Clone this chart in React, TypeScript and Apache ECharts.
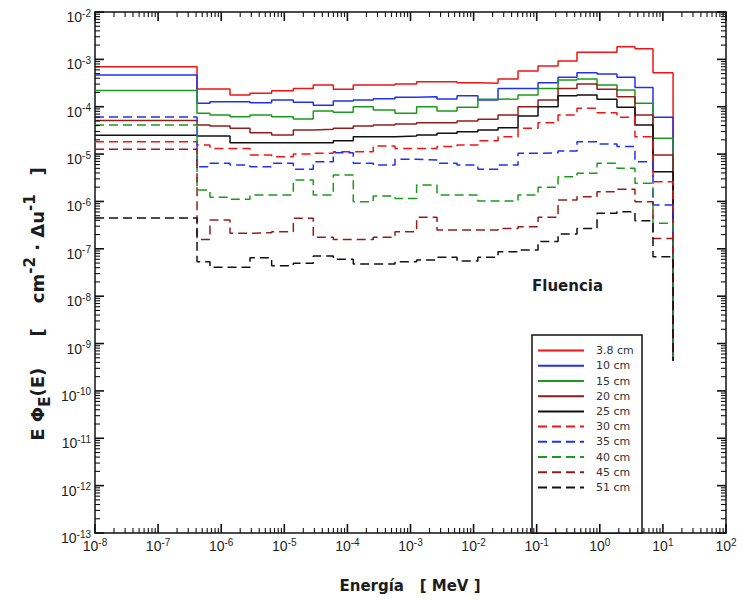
import React, { useEffect, useRef } from "react";
import * as echarts from "echarts";

// Bin lower edges (MeV); the last entry is the upper edge of the last bin
const binEdges = [
  1e-8, 4.14e-7, 6.64e-7, 1.38e-6, 2.86e-6, 6.3e-6, 1.39e-5, 2.88e-5, 5.98e-5,
  1.24e-4, 2.57e-4, 5.68e-4, 1.25e-3, 2.63e-3, 5.46e-3, 1.17e-2, 2.44e-2,
  5.06e-2, 0.105, 0.218, 0.435, 0.904, 1.87, 3.61, 6.97, 14.5,
];

const seriesNames = ["3.8 cm", "10 cm", "15 cm", "20 cm", "25 cm", "30 cm", "35 cm", "40 cm", "45 cm", "51 cm"];

const v38 = [7.0e-4, 2.37e-4, 2.37e-4, 1.77e-4, 1.92e-4, 2.18e-4, 2.44e-4, 2.88e-4, 2.33e-4, 2.88e-4, 2.88e-4, 3.02e-4, 3.38e-4, 3.38e-4, 3.22e-4, 3.12e-4, 3.85e-4, 5.68e-4, 7.24e-4, 9.2e-4, 1.41e-3, 1.41e-3, 1.85e-3, 1.68e-3, 5.2e-4];
const v10 = [4.7e-4, 1.18e-4, 1.28e-4, 1.28e-4, 1.22e-4, 1.39e-4, 1.24e-4, 1.07e-4, 1.32e-4, 1.39e-4, 1.48e-4, 1.58e-4, 1.63e-4, 1.46e-4, 1.71e-4, 1.39e-4, 2.44e-4, 2.44e-4, 3.22e-4, 4.17e-4, 5.24e-4, 4.91e-4, 4.17e-4, 2.56e-4, 5.97e-5];
const v15 = [2.2e-4, 7.24e-5, 6.68e-5, 6.16e-5, 6.68e-5, 6.16e-5, 5.5e-5, 8.13e-5, 7.61e-5, 1.0e-4, 8.53e-5, 7.24e-5, 1.0e-4, 8.13e-5, 9.7e-5, 1.43e-4, 1.46e-4, 1.77e-4, 2.44e-4, 3.67e-4, 3.85e-4, 2.88e-4, 2.25e-4, 1.18e-4, 2.15e-5];
const v20 = [5.1e-5, 4.11e-5, 3.92e-5, 3.5e-5, 2.83e-5, 2.53e-5, 3.22e-5, 3.33e-5, 3.5e-5, 3.92e-5, 4.11e-5, 4.31e-5, 4.6e-5, 4.6e-5, 4.99e-5, 5.42e-5, 6.68e-5, 1.0e-4, 1.39e-4, 2.44e-4, 3.02e-4, 2.33e-4, 1.63e-4, 6.68e-5, 9.57e-6];
const v25 = [2.5e-5, 2.41e-5, 2.41e-5, 1.74e-5, 1.74e-5, 1.74e-5, 1.74e-5, 1.74e-5, 1.92e-5, 2.33e-5, 2.33e-5, 2.41e-5, 2.53e-5, 2.74e-5, 2.97e-5, 3.22e-5, 3.61e-5, 6.37e-5, 1.0e-4, 1.71e-4, 1.77e-4, 1.43e-4, 9.7e-5, 4.11e-5, 4.26e-6];
const v30 = [1.82e-5, 1.56e-5, 1.32e-5, 1.32e-5, 9.57e-6, 8.82e-6, 1.0e-5, 1.04e-5, 1.12e-5, 1.12e-5, 1.48e-5, 1.32e-5, 1.32e-5, 1.44e-5, 1.56e-5, 1.92e-5, 2.33e-5, 3.5e-5, 4.6e-5, 6.68e-5, 9.25e-5, 7.48e-5, 5.97e-5, 2.33e-5, 2.61e-6];
const v35 = [6.1e-5, 5.42e-6, 6.38e-6, 5.88e-6, 5.42e-6, 6.38e-6, 4.76e-6, 6.92e-6, 1.07e-5, 6.38e-6, 5.88e-6, 7.75e-6, 7.5e-6, 6.38e-6, 5.88e-6, 4.76e-6, 5.88e-6, 1.04e-5, 1.07e-5, 1.16e-5, 1.83e-5, 1.63e-5, 1.44e-5, 6.92e-6, 8.41e-7];
const v40 = [4.1e-5, 1.75e-6, 1.22e-6, 1.11e-6, 1.37e-6, 1.37e-6, 2.84e-6, 1.37e-6, 3.61e-6, 9.89e-7, 1.3e-6, 1.16e-6, 2.22e-6, 1.37e-6, 1.37e-6, 1.02e-6, 1.02e-6, 1.37e-6, 1.99e-6, 3.33e-6, 3.92e-6, 6.38e-6, 5.0e-6, 2.41e-6, 3.45e-7];
const v45 = [1.26e-5, 1.58e-7, 4.06e-7, 2.12e-7, 2.19e-7, 2.3e-7, 4.4e-7, 1.75e-7, 1.58e-7, 1.58e-7, 1.75e-7, 2.3e-7, 4.62e-7, 2.5e-7, 2.5e-7, 2.5e-7, 2.7e-7, 2.93e-7, 4.62e-7, 1.07e-6, 1.26e-6, 1.61e-6, 1.8e-6, 9.89e-7, 1.66e-7];
const v51 = [4.5e-7, 5.35e-8, 4.06e-8, 4.06e-8, 6.5e-8, 4.41e-8, 4.93e-8, 7.05e-8, 6.0e-8, 4.77e-8, 4.77e-8, 5.35e-8, 5.81e-8, 6.61e-8, 5.52e-8, 6.61e-8, 8.71e-8, 9.44e-8, 1.42e-7, 2.06e-7, 2.7e-7, 5.61e-7, 6.08e-7, 3.92e-7, 6.82e-8];

// value reached by the drop at the upper edge of the last bin
const endValue = 4.4e-10;

const xExponents = [-8, -7, -6, -5, -4, -3, -2, -1, 0, 1, 2];
const yExponents = [-13, -12, -11, -10, -9, -8, -7, -6, -5, -4, -3, -2];

const allValues = [v38, v10, v15, v20, v25, v30, v35, v40, v45, v51];
const colors = ["#f01414", "#2030f0", "#1a9a1a", "#921c1c", "#111111", "#f01414", "#2030f0", "#1a9a1a", "#921c1c", "#111111"];
const dashed = [false, false, false, false, false, true, true, true, true, true];

const LABEL_FONT = "'Liberation Sans', Arial, sans-serif";
const TITLE_FONT = "'DejaVu Sans', Verdana, sans-serif";

const W = 743;
const H = 602;
const GRID = { left: 95, right: 17, top: 12, bottom: 69 };

const xDecades = xExponents.map((e) => Math.pow(10, e));
const yDecades = yExponents.map((e) => Math.pow(10, e));
const xMin = xDecades[0];
const xMax = xDecades[xDecades.length - 1];
const yMin = yDecades[0];
const yMax = yDecades[yDecades.length - 1];

function minorValues(decades: number[]) {
  const out: number[] = [];
  for (let i = 0; i < decades.length - 1; i++) {
    for (let m = 2; m <= 9; m++) out.push(m * decades[i]);
  }
  return out;
}
const xMinor = minorValues(xDecades);
const yMinor = minorValues(yDecades);

const supFormatter = (v: number) => {
  const e = Math.round(Math.log10(v));
  return `{b|10}{s|${e}}`;
};

const labelRich = {
  b: { fontSize: 14, fontFamily: LABEL_FONT, color: "#1e1e1e", lineHeight: 18 },
  s: { fontSize: 10, fontFamily: LABEL_FONT, color: "#1e1e1e", lineHeight: 10, verticalAlign: "top" },
};

// Decorative frame ticks, placed on the grid frame by the same log mapping as the axes
function buildTicks() {
  const gx = GRID.left;
  const gy = GRID.top;
  const gw = W - GRID.left - GRID.right;
  const gh = H - GRID.top - GRID.bottom;
  const lx0 = Math.log10(xMin), lx1 = Math.log10(xMax);
  const ly0 = Math.log10(yMin), ly1 = Math.log10(yMax);
  const px = (v: number) => gx + ((Math.log10(v) - lx0) / (lx1 - lx0)) * gw;
  const py = (v: number) => gy + gh - ((Math.log10(v) - ly0) / (ly1 - ly0)) * gh;
  const out: any[] = [];
  const addX = (v: number, len: number, w: number) => {
    const x = px(v);
    out.push({ type: "rect", z: 100, silent: true, shape: { x: x - w / 2, y: gy + gh - len, width: w, height: len }, style: { fill: "#111" } });
    out.push({ type: "rect", z: 100, silent: true, shape: { x: x - w / 2, y: gy, width: w, height: len }, style: { fill: "#111" } });
  };
  const addY = (v: number, len: number, w: number) => {
    const y = py(v);
    out.push({ type: "rect", z: 100, silent: true, shape: { x: gx, y: y - w / 2, width: len, height: w }, style: { fill: "#111" } });
    out.push({ type: "rect", z: 100, silent: true, shape: { x: gx + gw - len, y: y - w / 2, width: len, height: w }, style: { fill: "#111" } });
  };
  xDecades.forEach((v) => addX(v, 9, 1.6));
  xMinor.forEach((v) => addX(v, 5, 1.1));
  yDecades.forEach((v) => addY(v, 9, 1.6));
  yMinor.forEach((v) => addY(v, 5, 1.1));
  return out;
}

export default function App() {
  const ref = useRef<HTMLDivElement>(null);

  useEffect(() => {
    if (!ref.current) return;
    const chart = echarts.init(ref.current, null, { renderer: "svg" });

    const lineSeries = seriesNames.map((name, si) => {
      const vals = allValues[si];
      const data = binEdges.map((e, i) => [e, i < vals.length ? vals[i] : endValue]);
      return {
        type: "line",
        name,
        data,
        step: "end",
        symbol: "none",
        showSymbol: false,
        xAxisIndex: 0,
        yAxisIndex: 0,
        clip: true,
        color: colors[si],
        itemStyle: { color: colors[si] },
        lineStyle: { color: colors[si], width: 1.5, type: dashed[si] ? [9, 5] : "solid" },
        z: 2,
      };
    });

    const mkAxis = (pos: string, min: number, max: number, labelValues: number[] | null, margin: number, labelPadding: number[]) => ({
      type: "log",
      logBase: 10,
      min,
      max,
      position: pos,
      axisLine: { show: true, onZero: false, lineStyle: { color: "#111", width: 1.5 } },
      axisTick: { show: false },
      splitLine: { show: false },
      axisLabel: labelValues
        ? { show: true, margin, customValues: labelValues, formatter: supFormatter, rich: labelRich, padding: labelPadding }
        : { show: false },
    });

    const graphic: any[] = [
      {
        type: "rect", z: 3,
        shape: { x: 532, y: 335, width: 110, height: 198 },
        style: { fill: "#ffffff", stroke: "#111", lineWidth: 1.5 },
      },
      {
        type: "text", x: 532, y: 286, z: 5,
        style: { text: "Fluencia", fontSize: 15, fontWeight: "bold", fontFamily: TITLE_FONT, fill: "#1c1c28", verticalAlign: "middle", align: "left" },
      },
      {
        type: "text", x: 410, y: 586, z: 5,
        style: { text: "Energía   [ MeV ]", fontSize: 15, fontWeight: "bold", fontFamily: TITLE_FONT, fill: "#1c1c1c", verticalAlign: "middle", align: "center" },
      },
      {
        type: "text", x: 37, y: 304, rotation: Math.PI / 2, z: 5,
        style: {
          text: "E Φ{sub|E}(E)     [    cm{sup|-2} · Δu{sup|-1}   ]",
          fontSize: 18, fontWeight: "bold", fontFamily: TITLE_FONT, fill: "#1c1c1c",
          lineHeight: 30, align: "center", verticalAlign: "middle",
          rich: {
            sub: { fontSize: 15, fontWeight: "bold", fontFamily: TITLE_FONT, fill: "#1c1c1c", color: "#1c1c1c", lineHeight: 15, verticalAlign: "bottom" },
            sup: { fontSize: 15, fontWeight: "bold", fontFamily: TITLE_FONT, fill: "#1c1c1c", color: "#1c1c1c", lineHeight: 15, verticalAlign: "top" },
          },
        },
      },
      ...buildTicks(),
    ];

    const option: any = {
      animation: false,
      backgroundColor: "#ffffff",
      grid: { ...GRID, outerBoundsMode: "none" },
      xAxis: [
        mkAxis("bottom", xMin, xMax, xDecades, 4, [0, 0, 0, 0]),
        mkAxis("top", xMin, xMax, null, 0, [0, 0, 0, 0]),
      ],
      yAxis: [
        mkAxis("left", yMin, yMax, yDecades, 4, [10, 0, 0, 0]),
        mkAxis("right", yMin, yMax, null, 0, [0, 0, 0, 0]),
      ],
      legend: {
        data: seriesNames,
        orient: "vertical",
        left: 537,
        top: 345,
        padding: 0,
        itemWidth: 46,
        itemHeight: 14,
        itemGap: 4,
        selectedMode: false,
        itemStyle: { opacity: 0, borderWidth: 0 },
        textStyle: { fontSize: 11, color: "#333", fontFamily: TITLE_FONT, padding: [0, 0, 0, 7] },
      },
      graphic,
      series: lineSeries,
    };

    chart.setOption(option);
    return () => chart.dispose();
  }, []);

  return (
    <div
      ref={ref}
      style={{ position: "fixed", left: 0, top: 0, width: W, height: H, background: "#fff" }}
    />
  );
}
